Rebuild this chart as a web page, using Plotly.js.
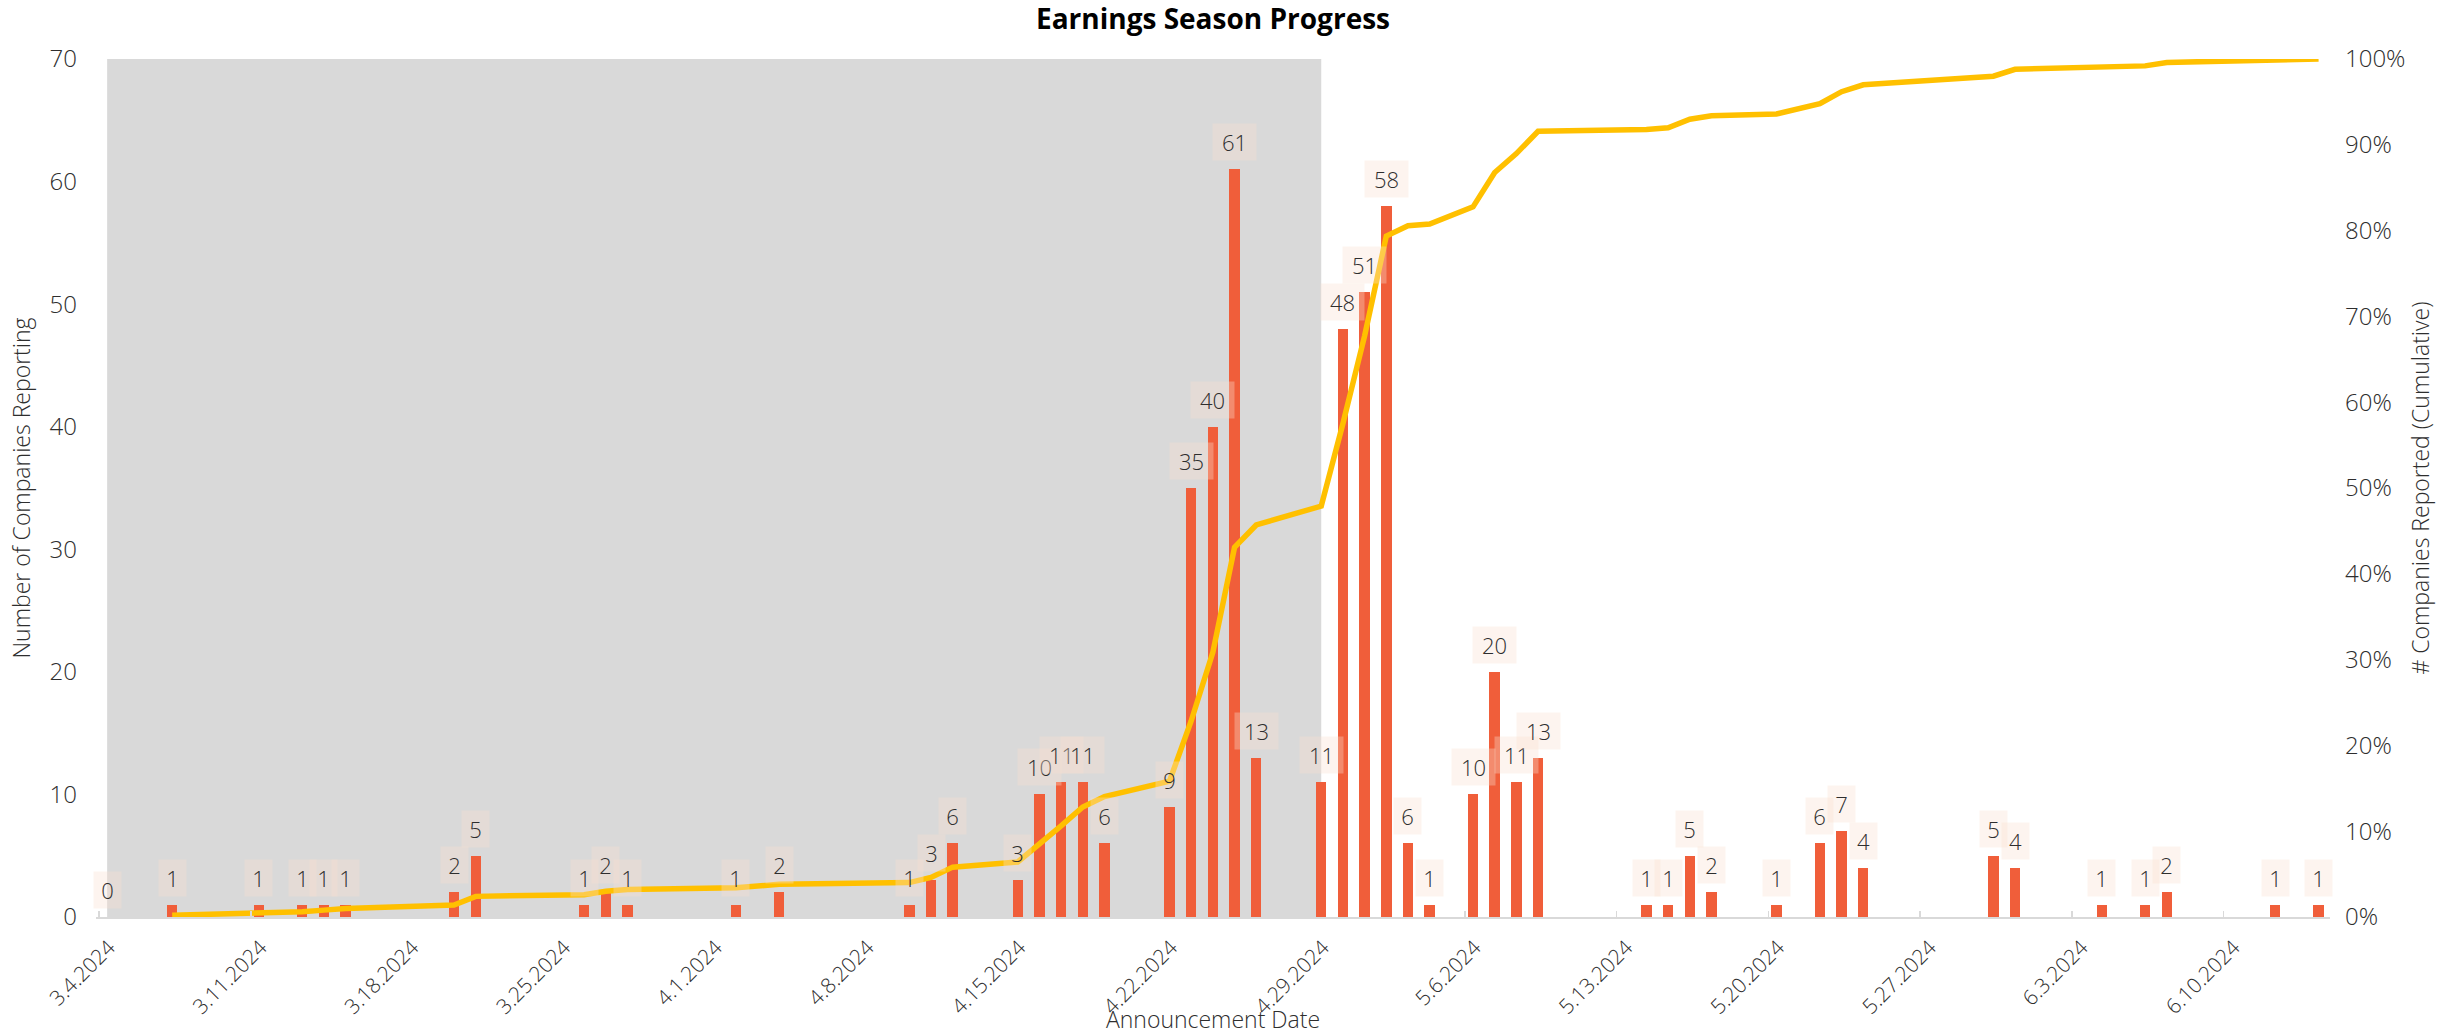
<!DOCTYPE html>
<html>
<head>
<meta charset="utf-8">
<script src="https://cdn.plot.ly/plotly-3.0.1.min.js"></script>
<style>html,body{margin:0;padding:0;background:#fff;}#chart{width:2453px;height:1035px;}</style>
</head>
<body>
<div id="chart"></div>
<script>
// Announcement dates (2024)
const dates = [
  "2024-03-04","2024-03-07","2024-03-11","2024-03-13","2024-03-14","2024-03-15",
  "2024-03-20","2024-03-21","2024-03-26","2024-03-27","2024-03-28",
  "2024-04-02","2024-04-04","2024-04-10","2024-04-11","2024-04-12",
  "2024-04-15","2024-04-16","2024-04-17","2024-04-18","2024-04-19",
  "2024-04-22","2024-04-23","2024-04-24","2024-04-25","2024-04-26",
  "2024-04-29","2024-04-30","2024-05-01","2024-05-02","2024-05-03","2024-05-04",
  "2024-05-06","2024-05-07","2024-05-08","2024-05-09",
  "2024-05-14","2024-05-15","2024-05-16","2024-05-17",
  "2024-05-20","2024-05-22","2024-05-23","2024-05-24",
  "2024-05-30","2024-05-31","2024-06-04","2024-06-06","2024-06-07",
  "2024-06-12","2024-06-14"
];
// Number of companies reporting on each date
const counts = [
  0,1,1,1,1,1,
  2,5,1,2,1,
  1,2,1,3,6,
  3,10,11,11,6,
  9,35,40,61,13,
  11,48,51,58,6,1,
  10,20,11,13,
  1,1,5,2,
  1,6,7,4,
  5,4,1,1,2,
  1,1
];
// Shaded period (already reported)
const shadeStart = "2024-03-04";
const shadeEnd = "2024-04-29";

const title = "Earnings Season Progress";
const xTitle = "Announcement Date";
const yTitle = "Number of Companies Reporting";
const y2Title = "# Companies Reported (Cumulative)";

// bar centre within the day
const pos = d => d + " 09:00";

const total = counts.reduce((a, b) => a + b, 0);
let run = 0;
const cumPct = counts.map(c => { run += c; return c === 0 ? null : run / total; });

const xs = dates.map(pos);
const FONT = "Open Sans, Liberation Sans, sans-serif";
const TXT = "#2e2e2e";
const LIGHT = 300;

const barTrace = {
  type: "bar",
  x: xs,
  y: counts,
  width: 0.48 * 86400000,
  marker: { color: "#F05E3A" },
  hoverinfo: "x+y",
  showlegend: false
};
const lineTrace = {
  type: "scatter",
  mode: "lines",
  x: xs,
  y: cumPct,
  yaxis: "y2",
  connectgaps: true,
  line: { color: "#FFC000", width: 5.5 },
  showlegend: false
};

const annotations = counts.map((c, i) => ({
  x: xs[i], y: c, xref: "x", yref: "y",
  text: String(c),
  showarrow: false,
  yanchor: "bottom",
  yshift: 8,
  bgcolor: "rgba(248,224,208,0.35)",
  borderpad: 3,
  width: 16 * String(c).length + 5,
  font: { family: FONT, size: 22, color: TXT, weight: LIGHT }
}));

const layout = {
  width: 2453, height: 1035,
  paper_bgcolor: "#ffffff", plot_bgcolor: "#ffffff",
  margin: { l: 96, r: 123, t: 59, b: 118 },
  title: {
    text: title,
    font: { family: FONT, size: 28, color: "#000000", weight: 700 },
    x: 0.5, xref: "paper", xanchor: "center",
    y: 0.981, yref: "container", yanchor: "middle"
  },
  bargap: 0,
  showlegend: false,
  xaxis: {
    type: "date",
    range: ["2024-03-03 20:40", "2024-06-14 21:40"],
    tick0: "2024-03-04", dtick: 7 * 86400000,
    tickformat: "%-m.%-d.%Y",
    tickangle: -45,
    tickfont: { family: FONT, size: 21, color: TXT, weight: LIGHT },
    ticks: "inside", ticklen: 6, tickcolor: "#d9d9d9", tickwidth: 1.5,
    ticklabelshift: 10, ticklabelstandoff: 8,
    showline: true, linecolor: "#d9d9d9", linewidth: 2,
    showgrid: false, zeroline: false,
    title: { text: xTitle, font: { family: FONT, size: 23, color: TXT, weight: LIGHT }, standoff: 7 }
  },
  yaxis: {
    range: [0, 70], dtick: 10,
    showgrid: false, zeroline: false, showline: false, ticks: "",
    tickfont: { family: FONT, size: 24, color: TXT, weight: LIGHT },
    ticklabelstandoff: 18,
    title: { text: yTitle, font: { family: FONT, size: 23, color: TXT, weight: LIGHT }, standoff: 12 }
  },
  yaxis2: {
    overlaying: "y", side: "right",
    range: [0, 1], dtick: 0.1, tickformat: ".0%",
    showgrid: false, zeroline: false, showline: false, ticks: "",
    tickfont: { family: FONT, size: 24, color: TXT, weight: LIGHT },
    ticklabelstandoff: 14,
    title: { text: y2Title, font: { family: FONT, size: 23, color: TXT, weight: LIGHT }, standoff: 8 }
  },
  shapes: [{
    type: "rect", layer: "below",
    xref: "x", yref: "paper",
    x0: pos(shadeStart), x1: pos(shadeEnd), y0: 0, y1: 1,
    fillcolor: "#d9d9d9", line: { width: 0 }
  }],
  annotations: annotations
};

Plotly.newPlot("chart", [barTrace, lineTrace], layout, { displayModeBar: false, staticPlot: true });
</script>
</body>
</html>
